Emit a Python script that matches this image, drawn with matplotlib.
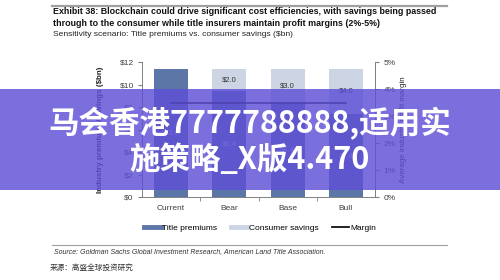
import matplotlib.pyplot as plt
import numpy as np
from matplotlib.patches import Rectangle
from matplotlib.lines import Line2D

# Data
scenarios = ['Current', 'Bear', 'Base', 'Bull']
premiums = [11.4, 9.4, 8.4, 7.4]
savings = [0.0, 2.0, 3.0, 4.0]
margin = [3.5, 3.5, 3.5, 3.5]

dark = '#5d76a8'
light = '#cdd5e4'
grey = '#808080'
txt = '#404040'

plt.rcParams['font.family'] = ['Liberation Sans', 'DejaVu Sans']

fig = plt.figure(figsize=(5, 2.8), dpi=100)

# header line + titles
fig.add_artist(Line2D([0.104, 0.894], [0.978, 0.978], color='#a0a0a0', lw=1.6))
fig.text(0.106, 0.958, 'Exhibit 38: Blockchain could drive significant cost efficiencies, with savings being passed',
         fontsize=6.4, fontweight='bold', va='center', color='#111111')
fig.text(0.106, 0.915, 'through to the consumer while title insurers maintain profit margins (2%-5%)',
         fontsize=6.4, fontweight='bold', va='center', color='#111111')
fig.text(0.106, 0.877, 'Sensitivity scenario: Title premiums vs. consumer savings ($bn)',
         fontsize=6.1, va='center', color='#222222')

ax = fig.add_axes([0.284, 0.296, 0.466, 0.482])
x = np.arange(len(scenarios))
w = 0.58
ax.bar(x, premiums, w, color=dark, zorder=2)
ax.bar(x, savings, w, bottom=premiums, color=light, zorder=2)
for i in range(len(x)):
    ax.text(x[i], premiums[i] / 2, '$%.1f' % premiums[i], ha='center', va='center',
            fontsize=5.5, color='#dfe4f0', zorder=3)
    if savings[i] > 0:
        ax.text(x[i], premiums[i] + savings[i] / 2, '$%.1f' % savings[i], ha='center', va='center',
                fontsize=5.5, color='#333333', zorder=3)

ax.set_xlim(-0.5, 3.5)
ax.set_ylim(0, 12)
ax.set_yticks(range(0, 13, 2))
ax.set_yticklabels(['$%d' % v for v in range(0, 13, 2)])
ax.set_xticks(x)
ax.set_xticklabels(scenarios)
ax.set_xticks([0.5, 1.5, 2.5], minor=True)
ax.tick_params(axis='x', which='major', length=0, labelsize=6, colors=txt, pad=6)
ax.tick_params(axis='x', which='minor', length=3, color=grey, direction='out')
ax.tick_params(axis='y', labelsize=6, colors=txt, length=3, color=grey, pad=3)
for s in ['left', 'bottom', 'right']:
    ax.spines[s].set_color(grey)
    ax.spines[s].set_linewidth(0.7)
ax.spines['top'].set_visible(False)
ax.set_ylabel('Industry premiums/savings ($bn)', fontsize=5.8, fontweight='bold', color='#222222', labelpad=11)

ax2 = ax.twinx()
ax2.plot(x, margin, color='#111111', lw=1.2, zorder=4)
ax2.set_ylim(0, 5)
ax2.set_yticks(range(0, 6))
ax2.set_yticklabels(['%d%%' % v for v in range(0, 6)])
ax2.tick_params(axis='y', labelsize=6, colors=txt, length=3, color=grey, pad=3)
for s in ['top', 'left', 'bottom']:
    ax2.spines[s].set_visible(False)
ax2.spines['right'].set_color(grey)
ax2.spines['right'].set_linewidth(0.7)
ax2.set_ylabel('Average industry profit margin', fontsize=5.8, color='#222222', labelpad=3)

# legend
handles = [Line2D([], [], color=dark, lw=3.5), Line2D([], [], color=light, lw=3.5),
           Line2D([], [], color='#111111', lw=1.3)]
fig.legend(handles, ['Title premiums', 'Consumer savings', 'Margin'], loc='center',
           bbox_to_anchor=(0.52, 0.185), ncol=3, frameon=False, fontsize=6,
           handlelength=2.0, handletextpad=0.2, columnspacing=1.6)

# source
fig.add_artist(Line2D([0.104, 0.894], [0.125, 0.125], color='#a0a0a0', lw=0.8))
fig.text(0.108, 0.1, 'Source: Goldman Sachs Global Investment Research, American Land Title Association.',
         fontsize=5, style='italic', va='center', color='#333333')
fig.text(0.1, 0.042, '来源：高盛全球投资研究', fontsize=5.5, va='center', color='#333333',
         family=['Noto Sans CJK SC', 'DejaVu Sans'])

# overlay banner
fig.add_artist(Rectangle((0, 0.322), 1, 0.36, transform=fig.transFigure,
                         facecolor=(0.37, 0.31, 0.84), alpha=0.82, edgecolor='none', zorder=10))
fig.text(0.5, 0.56, '马会香港7777788888,适用实', fontsize=22, fontweight='bold', color='white',
         ha='center', va='center', family=['Noto Sans CJK SC', 'DejaVu Sans'], zorder=11)
fig.text(0.5, 0.43, '施策略_X版4.470', fontsize=22, fontweight='bold', color='white',
         ha='center', va='center', family=['Noto Sans CJK SC', 'DejaVu Sans'], zorder=11)

fig.savefig('out.png', dpi=100)
